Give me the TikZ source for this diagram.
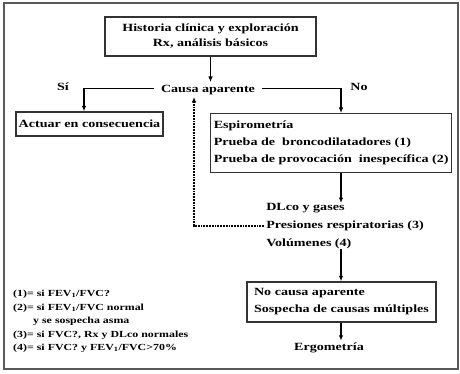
\documentclass[tikz,border=0pt]{standalone}
\usepackage{fontspec}
\setmainfont[FakeStretch=1.28]{Liberation Serif}
\usetikzlibrary{arrows.meta}
\newcommand\mfont{\bfseries\fontsize{11}{15}\selectfont}
\newcommand\fnfontx{\bfseries\fontsize{9.3}{13.5}\selectfont}
\begin{document}
\begin{tikzpicture}[x=1pt,y=-1pt,
  box/.style={draw=black!80, line width=1.3pt, inner sep=0pt},
  txt/.style={inner sep=0pt},
  arr/.style={line width=1.8pt, -{Latex[length=5.5pt,width=4.5pt]}},
  dotarr/.style={line width=1.8pt, densely dotted, -{Latex[length=5.5pt,width=4.5pt]}},
  every node/.style={font=\mfont}]
\useasboundingbox (0,0) rectangle (460,374);
\draw[black!65, line width=1.2pt] (4,3) rectangle (458,369);
\coordinate (colx) at (341,0);

\node[box, minimum width=211pt, minimum height=39pt, align=center] (top) at (210.5,36.5)
  {Historia clínica y exploración\\Rx, análisis básicos};
\node[txt] (causa) at (208,90) {Causa aparente};
\node[txt] (si) at (63,87) {Sí};
\node[txt] (no) at (359,87) {No};
\node[box, minimum width=147pt, minimum height=24pt] (act) at (89.5,124) {Actuar en consecuencia};
\node[box, anchor=north west, minimum width=241pt, minimum height=59pt, align=left,
  font=\bfseries\fontsize{11}{17}\selectfont] (esp) at (210,113)
  {Espirometría\\Prueba de\ \ broncodilatadores (1)\\Prueba de provocación\ \ inespecífica (2)};
\node[txt, align=left, font=\bfseries\fontsize{11}{18}\selectfont] (tests) at (345,226)
  {DLco y gases\\Presiones respiratorias (3)\\Volúmenes (4)};
\node[box, minimum width=189pt, minimum height=40pt, align=left,
  font=\bfseries\fontsize{11}{17}\selectfont] (nc) at (341.5,302)
  {No causa aparente\\Sospecha de causas múltiples};
\node[txt] (ergo) at (329,348) {Ergometría};
\node[txt, align=left, anchor=north west, font=\fnfontx] (notes) at (13,290)
  {(1)= si FEV\textsubscript{1}/FVC?\\(2)= si FEV\textsubscript{1}/FVC normal\\\hspace*{20pt}y se sospecha asma\\(3)= si FVC?, Rx y DLco normales\\(4)= si FVC? y FEV\textsubscript{1}/FVC>70\%};

\draw[arr] (top.south) -- ([yshift=3pt]top.south |- causa.north);
\draw[arr] ([xshift=-7pt,yshift=1.5pt]causa.west) -| ([xshift=-5.5pt]act.north);
\draw[arr] ([xshift=7pt,yshift=1.5pt]causa.east) -| (esp.north -| colx);
\draw[arr] (esp.south -| colx) -- (tests.north -| colx);
\draw[arr] (tests.south -| colx) -- (nc.north -| colx);
\draw[arr] (nc.south -| colx) -- ([yshift=2pt]ergo.north -| colx);
\draw[dotarr] ([xshift=-2pt]tests.west) -| ([xshift=-14pt,yshift=-2pt]causa.south);
\end{tikzpicture}
\end{document}
